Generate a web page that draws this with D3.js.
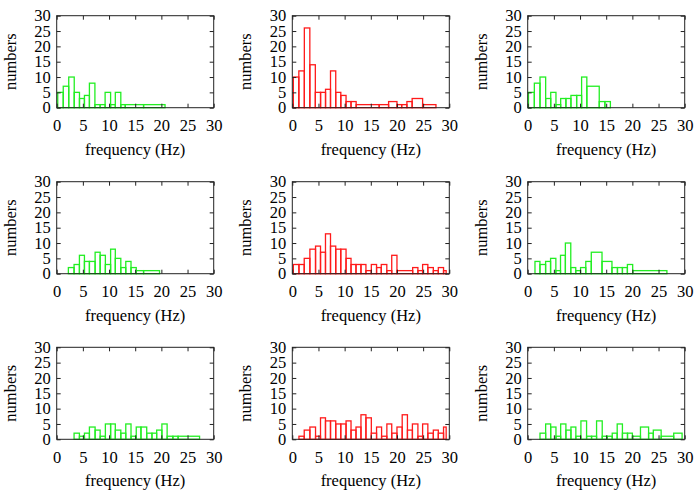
<!DOCTYPE html>
<html>
<head>
<meta charset="utf-8">
<script src="https://cdn.jsdelivr.net/npm/d3@7"></script>
<style>
  html, body { margin: 0; padding: 0; background: #fff; }
  svg { display: block; }
</style>
</head>
<body>
<div id="chart"></div>
<script>
// ---- data (frequency bin edges in Hz, counts per bin) ----
const xTicks = [0, 5, 10, 15, 20, 25, 30];
const yTicks = [0, 5, 10, 15, 20, 25, 30];
const xLabel = "frequency (Hz)";
const yLabel = "numbers";

const edges1 = [0.2,1.25,2.3,3.35,4.35,5.3,6.25,7.3,8.3,9.25,10.3,11.2,12.25,13.1,16.6,20.7];
const counts1 = [5,7,10,5,3,4,8,1,1,5,1,5,1,1,1];

const edges2 = [0.2,1.25,2.3,3.35,4.4,5.4,6.35,7.3,8.3,9.27,10.27,11.22,12.2,16.6,18.4,20.0,20.9,21.9,22.9,24.9,27.45];
const counts2 = [10,12,26,14,5,5,6,12,5,4,2,2,1,1,2,1,1,2,3,1];

const edges3 = [0.15,1.27,2.35,3.43,4.4,5.4,6.3,7.3,8.26,9.35,10.3,11.3,13.67,14.75,15.8];
const counts3 = [5,8,10,3,5,1,3,3,4,4,10,7,2,2];

const edges4 = [2.23,3.32,4.34,5.3,6.25,7.34,8.3,9.3,10.3,11.2,12.25,13.2,14.2,15.2,16.6,19.65];
const counts4 = [2,3,6,4,4,7,6,3,8,5,2,4,2,1,1];

const edges5 = [0.2,1.27,2.28,3.36,4.44,5.39,6.34,7.3,8.3,9.26,10.27,11.22,12.17,13.12,14.07,15.1,16.1,17.0,18.06,19.0,20.0,23.0,24.0,24.9,25.9,26.95,27.9,28.9,29.4];
const counts5 = [3,3,5,8,9,7,13,9,8,8,5,3,3,3,1,3,2,3,1,6,1,2,1,3,2,1,2,1];

const edges6 = [1.39,2.34,3.42,4.37,5.38,6.27,7.2,8.23,9.18,10.1,11.1,12.15,14.2,16.1,17.15,18.1,19.05,20.06,26.6];
const counts6 = [4,3,4,5,1,6,10,2,1,2,4,7,4,2,2,2,3,1];

const edges7 = [3.32,4.34,5.3,6.25,7.34,8.3,9.3,10.3,11.2,12.25,13.2,14.2,15.2,16.1,17.2,18.2,19.1,20.1,21.1,22.2,23.2,27.3];
const counts7 = [2,1,2,4,3,1,5,5,3,2,5,1,4,4,2,2,3,5,1,1,1];

const edges8 = [1.27,2.28,3.36,4.44,5.39,6.34,7.3,8.3,9.26,10.27,11.22,12.17,13.12,14.07,15.1,16.1,17.06,18.07,19.0,20.0,21.0,22.0,22.95,24.0,24.9,25.9,26.95,27.9,28.9,29.4];
const counts8 = [1,3,4,1,7,6,6,5,5,6,3,4,8,7,2,4,1,5,2,4,8,3,5,1,5,2,3,2,4];

const edges9 = [2.35,3.43,4.39,5.4,6.3,7.3,8.26,9.2,10.17,11.25,12.2,13.16,14.24,15.2,16.15,17.1,18.1,19.07,20.0,21.55,23.1,24.0,25.5,27.9,29.5];
const counts9 = [2,5,4,1,5,3,4,1,6,1,1,6,1,1,2,5,2,2,1,4,2,3,1,2];

const panelEdges = [edges1, edges2, edges3, edges4, edges5, edges6, edges7, edges8, edges9];
const panelCounts = [counts1, counts2, counts3, counts4, counts5, counts6, counts7, counts8, counts9];
const panelColor = ["green","red","green","green","red","green","green","red","green"];

// ---- layout ----
const W = 700, H = 494;
const colLeft = [56.7, 292.3, 527.7];
const rowTop = [15.7, 181.7, 347.3];
const pw = 157, ph = 92;
const colors = { green: "#22ee22", red: "#ff1a1a" };
const fontSize = 16.5;
const fontFam = "'Liberation Serif', 'Times New Roman', Times, serif";

const svg = d3.select("#chart").append("svg")
  .attr("width", W).attr("height", H)
  .attr("font-family", fontFam);

panelEdges.forEach((edges, i) => {
  const counts = panelCounts[i];
  const r = Math.floor(i / 3), c = i % 3;
  const g = svg.append("g").attr("transform", `translate(${colLeft[c]},${rowTop[r]})`);

  const x = d3.scaleLinear().domain([0, 30]).range([0, pw]);
  const y = d3.scaleLinear().domain([0, 30]).range([ph, 0]);

  const bins = counts.map((n, k) => ({ x0: edges[k], x1: edges[k + 1], n }));

  // bars
  g.append("g").selectAll("rect").data(bins).join("rect")
    .attr("x", d => x(d.x0))
    .attr("y", d => y(d.n))
    .attr("width", d => x(d.x1) - x(d.x0))
    .attr("height", d => y(0) - y(d.n))
    .attr("fill", "none")
    .attr("stroke", colors[panelColor[i]])
    .attr("stroke-width", 1.3);

  const styleAxis = sel => {
    sel.attr("font-family", fontFam).attr("font-size", fontSize);
    sel.select(".domain").remove();
    sel.selectAll(".tick line").attr("stroke", "#222").attr("stroke-width", 1);
    sel.selectAll("text").attr("fill", "#000");
  };
  const noLabels = sel => sel.selectAll(".tick text").remove();

  // bottom axis with labels, inward ticks
  g.append("g").attr("transform", `translate(0,${ph})`)
    .call(d3.axisBottom(x).tickValues(xTicks).tickFormat(d3.format("d"))
      .tickSizeInner(-4).tickSizeOuter(0).tickPadding(12))
    .call(styleAxis);
  // top mirror ticks
  g.append("g")
    .call(d3.axisTop(x).tickValues(xTicks)
      .tickSizeInner(-4).tickSizeOuter(0))
    .call(styleAxis).call(noLabels);
  // left axis with labels
  g.append("g")
    .call(d3.axisLeft(y).tickValues(yTicks).tickFormat(d3.format("d"))
      .tickSizeInner(-4).tickSizeOuter(0).tickPadding(6))
    .call(styleAxis);
  // right mirror ticks
  g.append("g").attr("transform", `translate(${pw},0)`)
    .call(d3.axisRight(y).tickValues(yTicks)
      .tickSizeInner(-4).tickSizeOuter(0))
    .call(styleAxis).call(noLabels);

  // frame
  g.append("rect")
    .attr("x", 0).attr("y", 0).attr("width", pw).attr("height", ph)
    .attr("fill", "none").attr("stroke", "#222").attr("stroke-width", 1);

  // axis titles
  g.append("text")
    .attr("x", pw / 2).attr("y", ph + 47)
    .attr("text-anchor", "middle")
    .attr("font-size", fontSize)
    .attr("fill", "#000")
    .text(xLabel);

  g.append("text")
    .attr("transform", `translate(-41,${ph / 2}) rotate(-90)`)
    .attr("text-anchor", "middle")
    .attr("font-size", fontSize)
    .attr("fill", "#000")
    .text(yLabel);
});
</script>
</body>
</html>
